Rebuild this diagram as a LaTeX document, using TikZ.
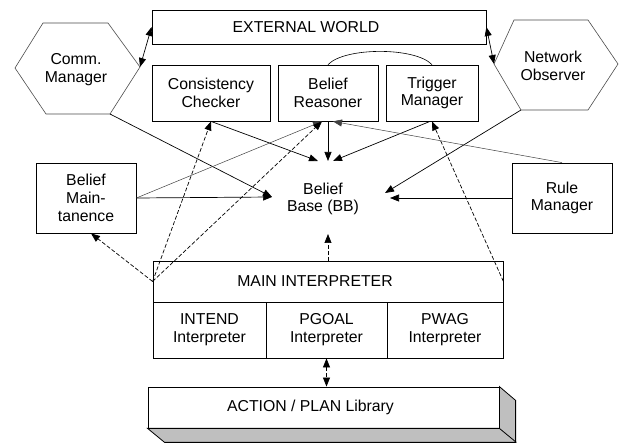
\documentclass[tikz,border=0pt]{standalone}
\usepackage{fontspec}
\setmainfont{Liberation Sans}
\usetikzlibrary{arrows.meta,calc}

\begin{document}
\begin{tikzpicture}[x=1pt,y=-1pt,>={Triangle[length=9pt,width=7pt]},
    every node/.style={font=\fontsize{15.8}{17.8}\selectfont,align=center},
    box/.style={draw,line width=.8pt,inner sep=0pt},
    hexa/.style={draw=black!70,line width=.6pt,fill=white},
    link/.style={->,line width=.7pt},
    thinlink/.style={->,line width=.5pt,draw=black!75},
    dlink/.style={->,line width=.7pt,dash pattern=on 4pt off 2pt}]
  \useasboundingbox (0,0) rectangle (619,443);

  % outside world and the two agents talking to it
  \node[box,minimum width=334pt,minimum height=34pt,label={[xshift=-13pt]center:EXTERNAL WORLD}] (world) at (319,27) {};
  \draw[hexa] (15,68) coordinate (comm-w) -- (43,23) -- (108,23) -- (140,67) coordinate (comm-e)
    -- (110,114) coordinate (comm-se) -- (46,114) -- cycle;
  \node (comm) at (76,70) {Comm.\\Manager};
  \draw[hexa] (494,64) coordinate (no-w) -- (514,20) -- (588,20) -- (618,64) coordinate (no-e)
    -- (588,110) -- (521,110) coordinate (no-sw) -- cycle;
  \node (netobs) at (553,66) {Network\\Observer};

  % belief modules
  \node[box,minimum width=118pt,minimum height=56pt] (cc) at (211,93) {Consistency\\Checker};
  \node[box,minimum width=100pt,minimum height=56pt] (br) at (328,93) {Belief\\Reasoner};
  \node[box,minimum width=92pt,minimum height=56pt] (tm) at (432,93) {Trigger\\Manager};
  \node[box,minimum width=100pt,minimum height=70pt] (bm) at (86,198) {Belief\\Main-\\tanence};
  \node[box,minimum width=100pt,minimum height=70pt] (rm) at (562,198) {Rule\\Manager};
  \node (bb) at (323,199) {Belief\\Base (BB)};
  \coordinate (bb-w) at (272,197);
  \coordinate (bb-e) at (390,198);
  \coordinate (bb-n) at (328,161);
  \coordinate (bb-s) at (328,234);

  % interpreters
  \node[box,minimum width=350pt,minimum height=41pt,label={[xshift=-13pt]center:MAIN INTERPRETER}] (mainint) at (328,281.5) {};
  \node[box,minimum width=113pt,minimum height=56pt] (intend) at (209.5,330) {INTEND\\Interpreter};
  \node[box,minimum width=121pt,minimum height=56pt] (pgoal) at (326.5,330) {PGOAL\\Interpreter};
  \node[box,minimum width=116pt,minimum height=56pt] (pwag) at (445,330) {PWAG\\Interpreter};

  % library slab
  \node[box,fill=white,minimum width=351pt,minimum height=41pt,label={[xshift=-13pt]center:ACTION / PLAN Library}] (lib) at (323.5,407.5) {};
  \draw[line width=.8pt,fill=black!25] (lib.south west) -- ++(17,14) -- ++(351,0) -- ++(0,-42)
    -- (lib.north east) -- (lib.south east) -- cycle;
  \draw[line width=.8pt] (lib.south east) -- ++(17,14);

  \draw[line width=.6pt] (br.north) .. controls (345,47) and (415,47) .. (tm.north);

  % solid links
  \draw[<->,line width=.7pt] (comm-e) -- (world.west);
  \draw[<->,line width=.7pt] (world.east) -- (no-w);
  \draw[link] (comm-se) -- (bb-w);
  \draw[link] (bm.east) -- (bb-w);
  \draw[link] (cc.south) -- ($(bb-n)+(-10,0)$);
  \draw[link] (br.south) -- (bb-n);
  \draw[link] ($(tm.south)+(-2,0)$) -- ($(bb-n)+(5,0)$);
  \draw[link] (no-sw) -- ($(bb-e)+(-5,-5)$);
  \draw[link] (rm.west) -- (bb-e);
  \draw[thinlink] (bm.east) -- ($(br.south)+(-6,0)$);
  \draw[thinlink] (rm.north) -- ($(br.south)+(5,0)$);

  % dashed control flow
  \draw[dlink] (mainint.west) -- ($(bm.south)+(5,0)$);
  \draw[dlink] (mainint.west) -- (cc.south);
  \draw[dlink] (mainint.west) -- ($(br.south)+(-6,0)$);
  \draw[dlink] (mainint.east) -- (tm.south);
  \draw[dlink] (mainint.north) -- (bb-s);
  \draw[dlink,<->] (pgoal.south) -- (pgoal.south |- lib.north);
\end{tikzpicture}
\end{document}
